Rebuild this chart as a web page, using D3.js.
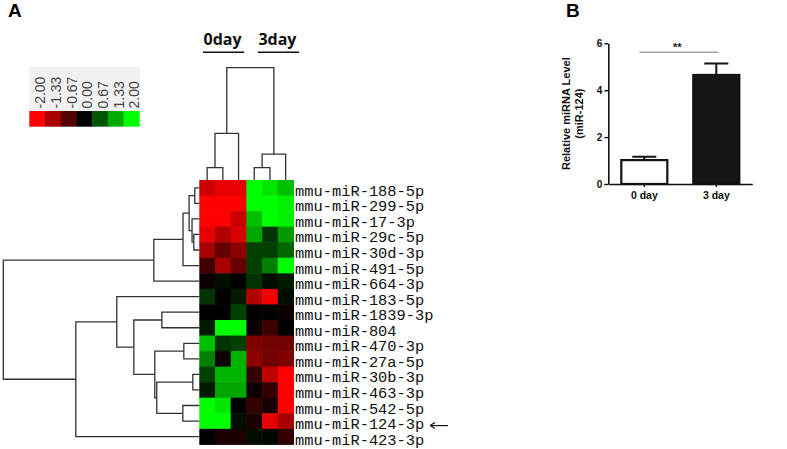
<!DOCTYPE html>
<html>
<head>
<meta charset="utf-8">
<script src="https://d3js.org/d3.v7.min.js"></script>
<style>
  body { margin: 0; background: #fff; }
  svg { display: block; }
</style>
</head>
<body>
<script>
// ---- data ----
const genes = ["mmu-miR-188-5p", "mmu-miR-299-5p", "mmu-miR-17-3p", "mmu-miR-29c-5p",
  "mmu-miR-30d-3p", "mmu-miR-491-5p", "mmu-miR-664-3p", "mmu-miR-183-5p",
  "mmu-miR-1839-3p", "mmu-miR-804", "mmu-miR-470-3p", "mmu-miR-27a-5p",
  "mmu-miR-30b-3p", "mmu-miR-463-3p", "mmu-miR-542-5p", "mmu-miR-124-3p", "mmu-miR-423-3p"];
const samples = ["0day-1", "0day-2", "0day-3", "3day-1", "3day-2", "3day-3"];
const groups = ["0day", "3day"];

// log ratio per gene (rows) and sample (columns)
const values = [
  [-1.6, -1.8, -1.8, 2.0, 1.8, 1.5],
  [-2.0, -2.0, -2.0, 2.0, 2.0, 1.9],
  [-2.0, -2.0, -1.6, 1.5, 2.0, 1.9],
  [-1.8, -1.4, -1.7, 1.3, 0.4, 1.2],
  [-1.3, -0.8, -1.1, 0.5, 0.5, 0.8],
  [-0.5, -1.3, -0.8, 0.5, 1.0, 2.0],
  [-0.1, 0.1, 0.0, 0.4, 0.1, 0.2],
  [0.4, 0.0, 0.2, -1.4, -1.9, 0.1],
  [0.0, 0.0, 0.5, 0.0, 0.0, -0.1],
  [0.2, 2.0, 2.0, -0.1, -0.5, 0.0],
  [1.5, 0.4, 0.5, -1.0, -0.9, -0.9],
  [1.0, -0.1, 1.4, -1.1, -0.9, -1.0],
  [0.5, 1.4, 1.4, -0.4, -1.5, -2.0],
  [0.2, 1.3, 1.3, -0.1, -0.4, -2.0],
  [2.0, 1.8, 0.0, -0.4, -0.2, -2.0],
  [2.0, 2.0, 0.1, -0.2, -1.8, -1.3],
  [0.0, -0.2, -0.2, 0.1, 0.05, -0.4]
];

// hclust-style merges: negative = leaf (1-based), positive = earlier merge
const rowMerge = [
  [-1, -2, 0.023], [-4, -5, 0.028], [-3, 2, 0.037], [1, 3, 0.052],
  [4, -6, 0.083], [5, -7, 0.232], [-9, -10, 0.191], [-11, -12, 0.079],
  [-13, -14, 0.033], [-15, -16, 0.084], [9, 10, 0.217], [8, 11, 0.227],
  [7, 12, 0.334], [-8, 13, 0.421], [14, -17, 0.63], [6, 15, 1.0]
];
const colMerge = [
  [-1, -2, 0.11], [1, -3, 0.416], [-4, -5, 0.11], [3, -6, 0.23], [2, 4, 1.0]
];

const legendValues = [-2, -1.33, -0.67, 0, 0.67, 1.33, 2];
const legendLabels = ["-2.00", "-1.33", "-0.67", "0.00", "0.67", "1.33", "2.00"];

// panel B
const barDays = ["0 day", "3 day"];
const barMeans = [1.02, 4.65];
const barErrors = [0.14, 0.49];
const yTicks = [0, 2, 4, 6];

// ---- svg ----
const W = 787, H = 449;
const svg = d3.select("body").append("svg")
  .attr("width", W)
  .attr("height", H);

const lineColor = "#333";

// panel letters
svg.append("text").attr("x", 8).attr("y", 17)
  .style("font-family", "Liberation Sans, Arial").style("font-weight", "bold")
  .style("font-size", "19px").text("A");
svg.append("text").attr("x", 566).attr("y", 17)
  .style("font-family", "Liberation Sans, Arial").style("font-weight", "bold")
  .style("font-size", "19px").text("B");

// ---- heatmap ----
const x = d3.scaleBand().domain(samples).range([199.3, 293.5]);
const y = d3.scaleBand().domain(genes).range([180, 444.4]);
const color = d3.scaleLinear().domain([-2, 0, 2]).range(["#ff0000", "#000000", "#00ff00"]).clamp(true);

const cells = [];
values.forEach((row, i) => row.forEach((v, j) => cells.push({ g: genes[i], s: samples[j], v })));

svg.append("g").selectAll("rect")
  .data(cells)
  .join("rect")
  .attr("x", d => x(d.s))
  .attr("y", d => y(d.g))
  .attr("width", x.bandwidth() + 0.5)
  .attr("height", y.bandwidth() + 0.5)
  .attr("fill", d => color(d.v));

svg.append("g").selectAll("text")
  .data(genes)
  .join("text")
  .attr("x", 295)
  .attr("y", d => y(d) + y.bandwidth() / 2 + 8)
  .style("font-family", "Liberation Mono, Courier New, monospace")
  .style("font-size", "15.4px")
  .style("fill", "#111")
  .text(d => d);

// arrow to miR-124
const ay = y("mmu-miR-124-3p") + y.bandwidth() / 2 + 4.5;
svg.append("line").attr("x1", 431).attr("x2", 448).attr("y1", ay).attr("y2", ay)
  .attr("stroke", "#111").attr("stroke-width", 1.2);
svg.append("path").attr("d", `M430,${ay} l5,-3 M430,${ay} l5,3`)
  .attr("stroke", "#111").attr("stroke-width", 1.2).attr("fill", "none");

// ---- dendrograms ----
function layout(merge, leafPos) {
  const nodes = [];
  const get = k => k < 0 ? { pos: leafPos(-k - 1), h: 0 } : nodes[k - 1];
  merge.forEach(([a, b, h]) => {
    const A = get(a), B = get(b);
    nodes.push({ pos: (A.pos + B.pos) / 2, h, A, B });
  });
  return nodes;
}

const hx = d3.scaleLinear().domain([0, 1]).range([199.3, 3.3]);
const rowNodes = layout(rowMerge, i => y(genes[i]) + y.bandwidth() / 2);
svg.append("g").selectAll("path")
  .data(rowNodes)
  .join("path")
  .attr("d", n => `M${hx(n.A.h)},${n.A.pos}H${hx(n.h)}V${n.B.pos}H${hx(n.B.h)}`)
  .attr("fill", "none").attr("stroke", lineColor).attr("stroke-width", 1.3);

const hy = d3.scaleLinear().domain([0, 1]).range([180, 67.7]);
const colNodes = layout(colMerge, j => x(samples[j]) + x.bandwidth() / 2);
svg.append("g").selectAll("path")
  .data(colNodes)
  .join("path")
  .attr("d", n => `M${n.A.pos},${hy(n.A.h)}V${hy(n.h)}H${n.B.pos}V${hy(n.B.h)}`)
  .attr("fill", "none").attr("stroke", lineColor).attr("stroke-width", 1.3);

// group labels
const groupX = d3.scaleBand().domain(groups).range([203, 299]).paddingInner(0.25);
const gl = svg.append("g").selectAll("g").data(groups).join("g");
gl.append("text")
  .attr("x", d => groupX(d) + groupX.bandwidth() / 2 - 1)
  .attr("y", 45)
  .attr("text-anchor", "middle")
  .style("font-family", "Open Sans, sans-serif").style("font-weight", "bold")
  .style("font-size", "16px").style("fill", "#111")
  .text(d => d);
gl.append("line")
  .attr("x1", d => groupX(d)).attr("x2", d => groupX(d) + groupX.bandwidth())
  .attr("y1", 52.3).attr("y2", 52.3)
  .attr("stroke", "#111").attr("stroke-width", 1.4);

// ---- colour legend ----
const lx = d3.scaleBand().domain(legendLabels).range([29.3, 139.3]);
svg.append("rect").attr("x", 29.3).attr("y", 66.7).attr("width", 110.7).attr("height", 44.3)
  .attr("fill", "#f1f1f1");
svg.append("g").selectAll("rect")
  .data(legendValues)
  .join("rect")
  .attr("x", (d, i) => lx(legendLabels[i]))
  .attr("y", 111)
  .attr("width", lx.bandwidth() + 0.4)
  .attr("height", 15.7)
  .attr("fill", d => color(d));
svg.append("g").selectAll("text")
  .data(legendLabels)
  .join("text")
  .attr("transform", d => `translate(${lx(d) + lx.bandwidth() / 2 + 8},108.5) rotate(-90)`)
  .style("font-family", "Liberation Sans, Arial").style("font-size", "14px")
  .style("fill", "#444")
  .text(d => d);

// ---- panel B bar chart ----
const bx = d3.scaleBand().domain(barDays).range([608.3, 752.3]).paddingInner(1 / 3).paddingOuter(1 / 6);
const by = d3.scaleLinear().domain([0, 6]).range([184, 43.3]);

const yAxis = svg.append("g")
  .attr("transform", "translate(608.3,0)")
  .call(d3.axisLeft(by).tickValues(yTicks).tickSize(4).tickSizeOuter(0).tickPadding(2).tickFormat(d3.format("d")));
yAxis.select(".domain").attr("stroke", "#111").attr("stroke-width", 1.6);
yAxis.selectAll(".tick line").attr("stroke", "#111").attr("stroke-width", 1.4);
yAxis.selectAll("text").style("font-family", "Liberation Sans, Arial")
  .style("font-weight", "bold").style("font-size", "10px").style("fill", "#111");

// error bars (upper only), drawn behind bars
const bars = barDays.map((d, i) => ({ d, m: barMeans[i], e: barErrors[i] }));
svg.append("g").selectAll("path")
  .data(bars)
  .join("path")
  .attr("d", b => {
    const cx = bx(b.d) + bx.bandwidth() / 2;
    return `M${cx},${by(b.m)}V${by(b.m + b.e)}M${cx - 12},${by(b.m + b.e)}H${cx + 12}`;
  })
  .attr("stroke", "#111").attr("stroke-width", 2).attr("fill", "none");

svg.append("g").selectAll("rect")
  .data(bars)
  .join("rect")
  .attr("x", b => bx(b.d) + 1)
  .attr("y", b => by(b.m))
  .attr("width", bx.bandwidth() - 2)
  .attr("height", b => by(0) - by(b.m))
  .attr("fill", (b, i) => i === 0 ? "#fff" : "#151515")
  .attr("stroke", "#111").attr("stroke-width", 2.2);

const xAxis = svg.append("g")
  .attr("transform", `translate(0,${by(0)})`)
  .call(d3.axisBottom(bx).tickSize(3).tickSizeOuter(0).tickPadding(4.5));
xAxis.select(".domain").attr("stroke", "#111").attr("stroke-width", 1.6);
xAxis.selectAll(".tick line").attr("stroke", "#111").attr("stroke-width", 1.4);
xAxis.selectAll("text").style("font-family", "Liberation Sans, Arial")
  .style("font-weight", "bold").style("font-size", "10.5px").style("fill", "#111");

// significance
const sigY = by(5.62);
svg.append("line")
  .attr("x1", bx("0 day") + bx.bandwidth() / 2 - 5).attr("x2", bx("3 day") + bx.bandwidth() / 2 + 1.7)
  .attr("y1", sigY).attr("y2", sigY)
  .attr("stroke", "#777").attr("stroke-width", 1);
svg.append("text")
  .attr("x", (bx("0 day") + bx("3 day") + bx.bandwidth()) / 2 - 3)
  .attr("y", sigY - 1.5)
  .attr("text-anchor", "middle")
  .style("font-family", "Liberation Sans, Arial").style("font-weight", "bold")
  .style("font-size", "11px").style("fill", "#111")
  .text("**");

// y title
const yt = svg.append("text")
  .attr("transform", `translate(570,${(by(0) + by(6)) / 2}) rotate(-90)`)
  .attr("text-anchor", "middle")
  .style("font-family", "Liberation Sans, Arial").style("font-weight", "bold")
  .style("font-size", "11px").style("fill", "#111");
yt.append("tspan").attr("x", 0).attr("dy", 0).text("Relative miRNA Level");
yt.append("tspan").attr("x", 0).attr("dy", 12.5).text("(miR-124)");
</script>
</body>
</html>
